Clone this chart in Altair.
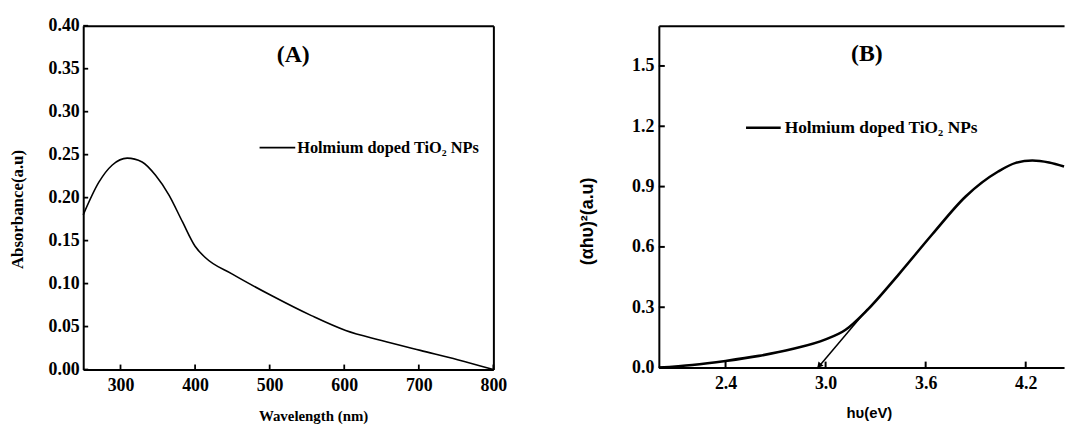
import altair as alt
import pandas as pd

# ---------------- data ----------------
wavelength = [250, 271, 289, 309, 329, 347, 365, 383, 400, 414, 450, 503, 556, 602, 650, 702, 752, 800]
absorbance = [0.180, 0.218, 0.238, 0.246, 0.2415, 0.226, 0.203, 0.172, 0.1435, 0.130, 0.111, 0.0858,
              0.0627, 0.0454, 0.0338, 0.0223, 0.0115, 0.0]

energy = [2.0, 2.2, 2.4, 2.6, 2.8, 3.0, 3.12, 3.245, 3.44, 3.64, 3.84, 4.035, 4.14, 4.24, 4.34, 4.43]
tauc = [0.0, 0.013, 0.033, 0.058, 0.092, 0.14, 0.188, 0.282, 0.465, 0.663, 0.851, 0.975, 1.018, 1.03, 1.02, 1.0]

tangent_x = [2.955, 3.25]
tangent_y = [0.0, 0.29]
arrow_x = [2.965]
arrow_y = [0.012]

a_xticks = [300, 400, 500, 600, 700, 800]
a_yticks = [0.0, 0.05, 0.10, 0.15, 0.20, 0.25, 0.30, 0.35, 0.40]
b_xticks = [2.4, 3.0, 3.6, 4.2]
b_yticks = [0.0, 0.3, 0.6, 0.9, 1.2, 1.5]

legend_label = "Holmium doped TiO\u2082 NPs"
panel_a = "(A)"
panel_b = "(B)"

SERIF = "Liberation Serif, Times New Roman, serif"
SANS = "Liberation Sans, Arial, sans-serif"
WA, HA = 414, 347
WB, HB = 409, 345

# ---------------- panel A ----------------
dfa = pd.DataFrame({"wl": wavelength, "abs": absorbance})
sxa = alt.Scale(domain=[250, 800], nice=False, zero=False)
sya = alt.Scale(domain=[0, 0.40], nice=False)

lab = dict(labelFont=SERIF, labelFontWeight="bold", labelFontSize=18, labelColor="black",
           labelFlush=False, labelOverlap=False, domainColor="black", domainWidth=2,
           ticks=False, grid=False)

lineA = alt.Chart(dfa).mark_line(color="black", strokeWidth=1.6, interpolate="monotone").encode(
    x=alt.X("wl:Q", scale=sxa, axis=alt.Axis(values=a_xticks, labelPadding=7, title="Wavelength (nm)",
            titleFont=SERIF, titleFontSize=15, titleFontWeight="bold", titleColor="black",
            titleX=232, titleY=46, titleBaseline="middle", **lab)),
    y=alt.Y("abs:Q", scale=sya, axis=alt.Axis(values=a_yticks, format=".2f", labelPadding=4,
            title="Absorbance(a.u)", titleFont=SERIF, titleFontSize=17, titleFontWeight="bold",
            titleColor="black", titleX=-66, titleY=185, titleAngle=-90, titleAlign="center",
            titleBaseline="middle", **lab)),
)
frameA = alt.Chart(dfa).mark_line(opacity=0).encode(
    x=alt.X("wl:Q", scale=sxa, axis=alt.Axis(orient="top", labels=False, ticks=False, title=None,
            domainColor="black", domainWidth=2, grid=False)),
    y=alt.Y("abs:Q", scale=sya, axis=alt.Axis(orient="right", labels=False, ticks=False, title=None,
            domainColor="black", domainWidth=2, grid=False)),
)
xtA = alt.Chart(pd.DataFrame({"t": a_xticks})).mark_rule(color="black", strokeWidth=1.8).encode(
    x=alt.X("t:Q", scale=sxa, axis=None), y=alt.value(HA), y2=alt.value(HA - 5))
ytA = alt.Chart(pd.DataFrame({"t": a_yticks})).mark_rule(color="black", strokeWidth=1.8).encode(
    y=alt.Y("t:Q", scale=sya, axis=None), x=alt.value(0), x2=alt.value(5))
legLineA = alt.Chart(pd.DataFrame({"l": [legend_label]})).mark_rule(color="black", strokeWidth=1.6).encode(
    x=alt.value(178), x2=alt.value(214), y=alt.value(123))
legTextA = alt.Chart(pd.DataFrame({"l": [legend_label]})).mark_text(
    font=SERIF, fontWeight="bold", fontSize=16.5, align="left", baseline="middle", color="black").encode(
    text="l:N", x=alt.value(216), y=alt.value(123))
titleA = alt.Chart(pd.DataFrame({"l": [panel_a]})).mark_text(
    font=SERIF, fontWeight="bold", fontSize=24, align="center", baseline="middle", color="black").encode(
    text="l:N", x=alt.value(212), y=alt.value(30))

chartA = alt.layer(lineA, frameA, xtA, ytA, legLineA, legTextA, titleA).resolve_axis(
    x="independent", y="independent").properties(width=WA, height=HA)

# ---------------- panel B ----------------
dfb = pd.DataFrame({"e": energy, "t": tauc})
sxb = alt.Scale(domain=[2.0, 4.43], nice=False, zero=False)
syb = alt.Scale(domain=[0, 1.7], nice=False)

lineB = alt.Chart(dfb).mark_line(color="black", strokeWidth=2.6, interpolate="monotone").encode(
    x=alt.X("e:Q", scale=sxb, axis=alt.Axis(values=b_xticks, format=".1f", labelPadding=7, title="h\u03c5(eV)",
            titleFont=SANS, titleFontSize=15, titleFontWeight="bold", titleColor="black",
            titleX=212, titleY=45, titleBaseline="middle", **lab)),
    y=alt.Y("t:Q", scale=syb, axis=alt.Axis(values=b_yticks, format=".1f", labelPadding=5,
            title="(\u03b1h\u03c5)\u00b2(a.u)", titleFont=SANS, titleFontSize=18, titleFontWeight="bold",
            titleColor="black", titleX=-72, titleY=197, titleAngle=-90, titleAlign="center",
            titleBaseline="middle", **lab)),
)
frameB = alt.Chart(dfb).mark_line(opacity=0).encode(
    x=alt.X("e:Q", scale=sxb, axis=alt.Axis(orient="top", labels=False, ticks=False, title=None,
            domainColor="black", domainWidth=2, grid=False)),
    y=alt.Y("t:Q", scale=syb, axis=None),
)
tan_df = pd.DataFrame({"x": tangent_x, "y": tangent_y})
tanB = alt.Chart(tan_df).mark_line(color="black", strokeWidth=1.5).encode(
    x=alt.X("x:Q", scale=sxb, axis=None), y=alt.Y("y:Q", scale=syb, axis=None))
arrB = alt.Chart(pd.DataFrame({"x": arrow_x, "y": arrow_y})).mark_point(
    shape="triangle", filled=True, size=45, angle=220, color="black", opacity=1).encode(
    x=alt.X("x:Q", scale=sxb, axis=None), y=alt.Y("y:Q", scale=syb, axis=None))
xtB = alt.Chart(pd.DataFrame({"t": b_xticks})).mark_rule(color="black", strokeWidth=2).encode(
    x=alt.X("t:Q", scale=sxb, axis=None), y=alt.value(HB), y2=alt.value(HB - 6))
ytB = alt.Chart(pd.DataFrame({"t": b_yticks})).mark_rule(color="black", strokeWidth=2).encode(
    y=alt.Y("t:Q", scale=syb, axis=None), x=alt.value(0), x2=alt.value(6))
legLineB = alt.Chart(pd.DataFrame({"l": [legend_label]})).mark_rule(color="black", strokeWidth=2.6).encode(
    x=alt.value(88), x2=alt.value(123), y=alt.value(103))
legTextB = alt.Chart(pd.DataFrame({"l": [legend_label]})).mark_text(
    font=SERIF, fontWeight="bold", fontSize=17.5, align="left", baseline="middle", color="black").encode(
    text="l:N", x=alt.value(127), y=alt.value(103))
titleB = alt.Chart(pd.DataFrame({"l": [panel_b]})).mark_text(
    font=SERIF, fontWeight="bold", fontSize=24, align="center", baseline="middle", color="black").encode(
    text="l:N", x=alt.value(210), y=alt.value(29))

chartB = alt.layer(lineB, frameB, tanB, arrB, xtB, ytB, legLineB, legTextB, titleB).resolve_axis(
    x="independent", y="independent").properties(width=WB, height=HB)

chart = alt.hconcat(chartA, chartB, spacing=72).properties(
    padding={"left": 9, "top": 15, "right": 0, "bottom": 0},
    background="white",
).configure_view(stroke=None)

chart.save("out.html", embed_options={"renderer": "svg", "actions": False})
